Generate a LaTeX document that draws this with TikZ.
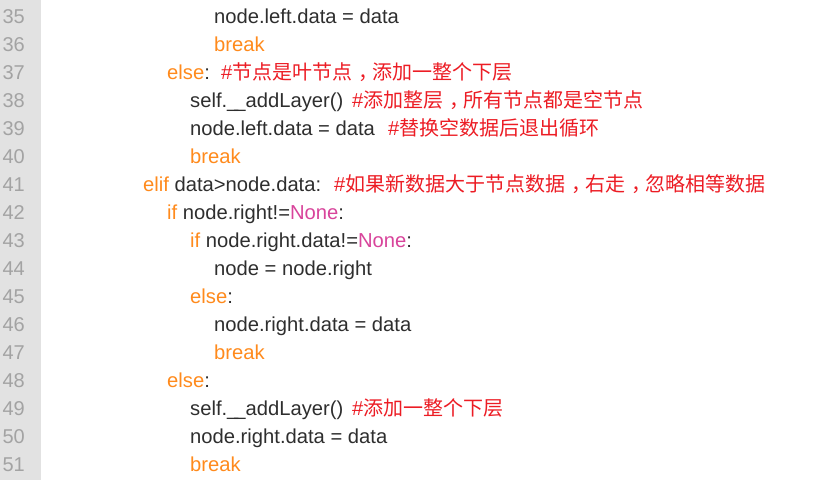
\documentclass[tikz,border=0pt]{standalone}
\usepackage{fontspec}
\setmainfont{Liberation Sans}
\newfontfamily\cjk{Noto Sans CJK SC}
\usepackage{tikz}
\usetikzlibrary{positioning}
\definecolor{gutter}{HTML}{E2E2E2}
\definecolor{lnumgray}{HTML}{A3A3A3}
\definecolor{codetext}{HTML}{2E2E2E}
\definecolor{kw}{HTML}{FF8A1C}
\definecolor{none}{HTML}{D8449B}
\definecolor{cmt}{HTML}{EC1C24}
\def\K#1{\textcolor{kw}{#1}}
\def\N#1{\textcolor{none}{#1}}
\def\C#1{\textcolor{cmt}{\#{\cjk\fontsize{20}{20}\selectfont #1}}}
\def\cm{\kern6pt，\kern-6pt}
\def\us{\_\kern-4pt\_}
\def\ind#1{\ifcase#1 143\or 167\or 190\or 214\fi}

\begin{document}
\begin{tikzpicture}[x=1pt, y=-1pt,
	lnum/.style={anchor=base east, inner sep=0, text=lnumgray, font=\fontsize{20}{20}\selectfont},
	code/.style={anchor=base west, inner sep=0, text=codetext, font=\fontsize{20.2}{20}\selectfont}]
		%%%%% START %%%%%
		\useasboundingbox (0,0) rectangle (815,480);
		\fill[gutter] (0,0) rectangle (41,480);
		
		\foreach \n in {35,...,51}
			\node[lnum] (n\n) at (25, {23+28*(\n-35)}) {\n};
		
		\node[code] (l35) at (\ind3, 23) {node.left.data = data};
		\node[code] (l36) at (\ind3, 51) {\K{break}};
		\node[code] (l37) at (\ind1, 79) {\K{else}:};
		\node[code] (c37) at (221, 79) {\C{节点是叶节点\cm 添加一整个下层}};
		\node[code] (l38) at (\ind2, 107) {self.\us addLayer()};
		\node[code] (c38) at (352, 107) {\C{添加整层\cm 所有节点都是空节点}};
		\node[code] (l39) at (\ind2, 135) {node.left.data = data};
		\node[code] (c39) at (388, 135) {\C{替换空数据后退出循环}};
		\node[code] (l40) at (\ind2, 163) {\K{break}};
		
		\node[code] (l41) at (\ind0, 191) {\K{elif} data>node.data:};
		\node[code] (c41) at (334, 191) {\C{如果新数据大于节点数据\cm 右走\cm 忽略相等数据}};
		\node[code] (l42) at (\ind1, 219) {\K{if} node.right!=\N{None}:};
		\node[code] (l43) at (\ind2, 247) {\K{if} node.right.data!=\N{None}:};
		\node[code] (l44) at (\ind3, 275) {node = node.right};
		\node[code] (l45) at (\ind2, 303) {\K{else}:};
		\node[code] (l46) at (\ind3, 331) {node.right.data = data};
		\node[code] (l47) at (\ind3, 359) {\K{break}};
		\node[code] (l48) at (\ind1, 387) {\K{else}:};
		\node[code] (l49) at (\ind2, 415) {self.\us addLayer()};
		\node[code] (c49) at (352, 415) {\C{添加一整个下层}};
		\node[code] (l50) at (\ind2, 443) {node.right.data = data};
		\node[code] (l51) at (\ind2, 471) {\K{break}};
		%%%%% END %%%%%
\end{tikzpicture}
\end{document}
